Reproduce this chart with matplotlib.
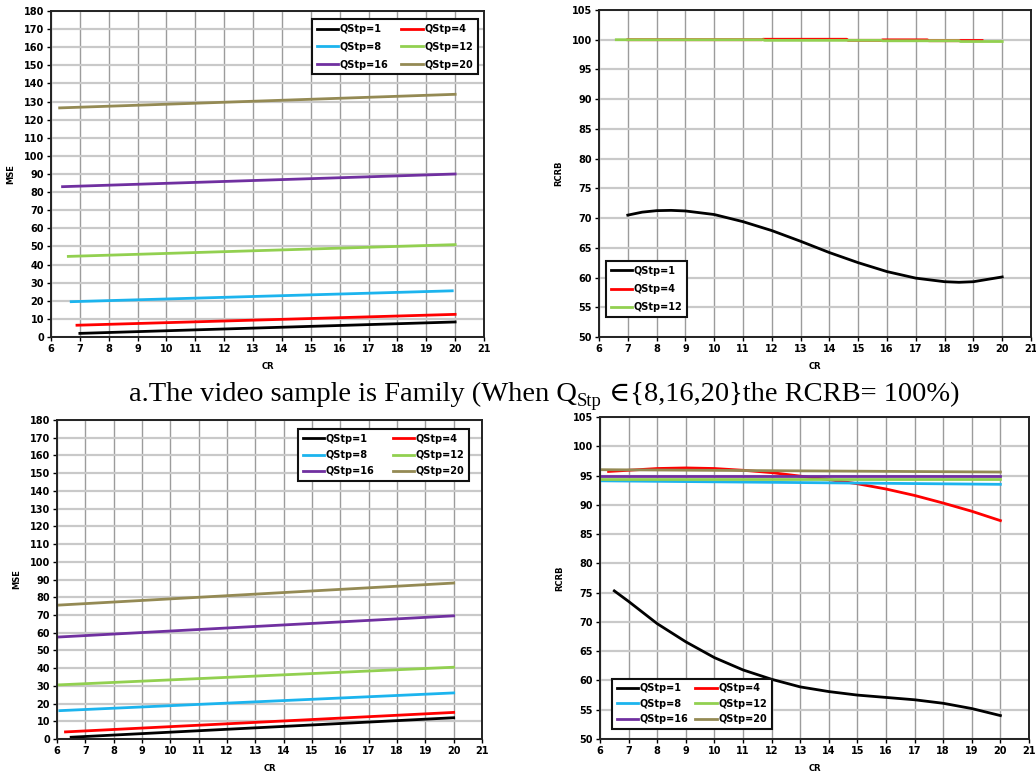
import numpy as np
import matplotlib
matplotlib.use('Agg')
import matplotlib.pyplot as plt

# series labels and colours (shared by all panels)
qstp_labels = ['QStp=1', 'QStp=4', 'QStp=8', 'QStp=12', 'QStp=16', 'QStp=20']
qstp_colors = ['#000000', '#ff0000', '#1cb4ee', '#92d050', '#7030a0', '#948a54']

cr_ticks = list(range(6, 22))
mse_ticks = list(range(0, 190, 10))
rcrb_ticks = list(range(50, 110, 5))

# panel a (Family) - MSE, nearly straight lines: start / end points
fam_mse_cr_start = [7.0, 6.9, 6.7, 6.6, 6.4, 6.3]
fam_mse_cr_end = [20.0, 20.0, 19.9, 20.0, 20.0, 20.0]
fam_mse_start = [2.0, 6.5, 19.5, 44.5, 83.0, 126.5]
fam_mse_end = [8.3, 12.5, 25.5, 51.0, 90.0, 134.0]

# panel a (Family) - RCRB
fam_rcrb_cr_q1 = [7, 7.5, 8, 8.5, 9, 10, 11, 12, 13, 14, 15, 16, 17, 18, 18.5, 19, 20]
fam_rcrb_q1 = [70.5, 71.0, 71.25, 71.3, 71.2, 70.6, 69.4, 67.9, 66.1, 64.2, 62.5,
               61.0, 59.9, 59.3, 59.2, 59.3, 60.1]
fam_rcrb_cr_q4 = [7.0, 11.65, 11.7, 14.6, 14.65, 15.8, 15.85, 17.4, 17.45, 18.5, 18.55, 19.3]
fam_rcrb_q4 = [100.0, 100.0, 100.08, 100.08, 99.9, 99.9, 99.98, 99.98, 99.83, 99.83, 99.87, 99.87]
fam_rcrb_cr_q12 = [6.6, 11.7, 11.75, 14.5, 14.55, 15.8, 15.85, 18.5, 18.55, 20.0]
fam_rcrb_q12 = [100.0, 100.0, 99.9, 99.9, 99.9, 99.9, 99.82, 99.82, 99.7, 99.7]

# panel b (second sample) - MSE start / end points
s2_mse_cr_start = [6.5, 6.3, 6.1, 6.0, 6.0, 6.0]
s2_mse_cr_end = [20.0, 20.0, 20.0, 20.0, 20.0, 20.0]
s2_mse_start = [1.0, 4.0, 16.0, 30.5, 57.5, 75.5]
s2_mse_end = [12.0, 15.0, 26.0, 40.5, 69.5, 88.0]

# panel b (second sample) - RCRB
s2_rcrb_cr_q1 = [6.5, 7, 8, 9, 10, 11, 12, 13, 14, 15, 16, 17, 18, 19, 20]
s2_rcrb_q1 = [75.3, 73.5, 69.7, 66.6, 63.9, 61.8, 60.2, 58.9, 58.1, 57.5, 57.1,
              56.7, 56.1, 55.2, 54.0]
s2_rcrb_cr_q4 = [6.3, 7, 8, 9, 10, 11, 12, 13, 14, 15, 16, 17, 18, 19, 20]
s2_rcrb_q4 = [95.7, 95.9, 96.2, 96.3, 96.2, 95.9, 95.5, 94.9, 94.3, 93.6, 92.7,
              91.6, 90.3, 88.9, 87.3]
s2_rcrb_cr_flat = [6.0, 20.0]
s2_rcrb_q8 = [94.1, 93.5]
s2_rcrb_q12 = [94.45, 94.45]
s2_rcrb_q16 = [94.95, 94.95]
s2_rcrb_q20 = [96.0, 95.6]

# caption pieces (Q with subscript Stp)
cap_head = 'a.The video sample is Family (When Q'
cap_sub = 'Stp'
cap_tail = ' \u2208{8,16,20}the RCRB= 100%)'

W, H = 1036, 781


def px_axes(fig, left, top, right, bottom):
    return fig.add_axes([left / W, 1 - bottom / H, (right - left) / W, (bottom - top) / H])


def style_axes(ax, yticks, ylabel):
    ax.set_xlim(6, 21)
    ax.set_ylim(yticks[0], yticks[-1])
    ax.set_xticks(cr_ticks)
    ax.set_yticks(yticks)
    ax.xaxis.grid(True, color='#9c9c9c', lw=1.0)
    ax.yaxis.grid(True, color='#c9c9c9', lw=1.6)
    ax.set_axisbelow(True)
    for s in ax.spines.values():
        s.set_color('#222222')
        s.set_linewidth(1.4)
    ax.tick_params(direction='out', length=3, width=1, labelsize=7, pad=2)
    for lab in ax.get_xticklabels() + ax.get_yticklabels():
        lab.set_fontweight('bold')
    ax.set_xlabel('CR', fontsize=6, fontweight='bold', labelpad=6)
    ax.set_ylabel(ylabel, fontsize=6, fontweight='bold', labelpad=6)


def add_legend(ax, handles, ncol, loc, anchor, colsp=1.2, labsp=0.6):
    if ncol == 2:
        # Excel fills rows first
        order = [0, 2, 4, 1, 3, 5]
        handles = [handles[i] for i in order]
    leg = ax.legend(handles=handles, ncol=ncol, loc=loc, bbox_to_anchor=anchor,
                    borderaxespad=0, fancybox=False, framealpha=1, edgecolor='#111111',
                    prop={'size': 7, 'weight': 'bold'}, handlelength=2.2,
                    handletextpad=0.15, columnspacing=colsp, labelspacing=labsp,
                    borderpad=0.5)
    leg.get_frame().set_linewidth(1.5)


fig = plt.figure(figsize=(W / 100, H / 100), dpi=100)

# top left: MSE, Family
ax1 = px_axes(fig, 51, 11, 484, 337)
hs = []
for i in range(6):
    h, = ax1.plot([fam_mse_cr_start[i], fam_mse_cr_end[i]], [fam_mse_start[i], fam_mse_end[i]],
                  color=qstp_colors[i], lw=2, label=qstp_labels[i])
    hs.append(h)
style_axes(ax1, mse_ticks, 'MSE')
add_legend(ax1, hs, 2, 'upper left', (0.603, 0.975), colsp=1.3, labsp=0.8)

# top right: RCRB, Family
ax2 = px_axes(fig, 599, 10, 1031, 337)
h1, = ax2.plot(fam_rcrb_cr_q1, fam_rcrb_q1, color=qstp_colors[0], lw=2, label=qstp_labels[0])
h4, = ax2.plot(fam_rcrb_cr_q4, fam_rcrb_q4, color=qstp_colors[1], lw=2, label=qstp_labels[1])
h12, = ax2.plot(fam_rcrb_cr_q12, fam_rcrb_q12, color=qstp_colors[3], lw=2, label=qstp_labels[3])
style_axes(ax2, rcrb_ticks, 'RCRB')
add_legend(ax2, [h1, h4, h12], 1, 'lower left', (0.016, 0.061), labsp=0.85)

# bottom left: MSE, second sample
ax3 = px_axes(fig, 57, 420, 482, 739)
hs = []
for i in range(6):
    h, = ax3.plot([s2_mse_cr_start[i], s2_mse_cr_end[i]], [s2_mse_start[i], s2_mse_end[i]],
                  color=qstp_colors[i], lw=2, label=qstp_labels[i])
    hs.append(h)
style_axes(ax3, mse_ticks, 'MSE')
add_legend(ax3, hs, 2, 'upper left', (0.567, 0.972), colsp=1.9, labsp=0.65)

# bottom right: RCRB, second sample
ax4 = px_axes(fig, 600, 417, 1029, 739)
hs = []
hs += ax4.plot(s2_rcrb_cr_q1, s2_rcrb_q1, color=qstp_colors[0], lw=2, label=qstp_labels[0])
hs += ax4.plot(s2_rcrb_cr_q4, s2_rcrb_q4, color=qstp_colors[1], lw=2, label=qstp_labels[1])
for vals, i in [(s2_rcrb_q8, 2), (s2_rcrb_q12, 3), (s2_rcrb_q16, 4), (s2_rcrb_q20, 5)]:
    hs += ax4.plot(s2_rcrb_cr_flat, vals, color=qstp_colors[i], lw=2, label=qstp_labels[i])
style_axes(ax4, rcrb_ticks, 'RCRB')
add_legend(ax4, hs, 2, 'lower left', (0.028, 0.031), colsp=0.7, labsp=0.55)

# caption between the two rows, built from pieces so the subscript sits right
fam = ['Liberation Serif', 'DejaVu Serif']
base_y = 1 - 401 / H
fig.canvas.draw()
rend = fig.canvas.get_renderer()
pieces = [(cap_head, 20.5, 0.0), (cap_sub, 13.5, -5.0), (cap_tail, 20.5, 0.0)]
texts = []
total = 0.0
for s, size, dy in pieces:
    t = fig.text(0, base_y + dy / H, s, fontsize=size, family=fam, va='baseline')
    w = t.get_window_extent(renderer=rend).width
    texts.append((t, w))
    total += w
x = 544 - total / 2
for t, w in texts:
    t.set_x(x / W)
    x += w

fig.savefig('out.png', dpi=100)
